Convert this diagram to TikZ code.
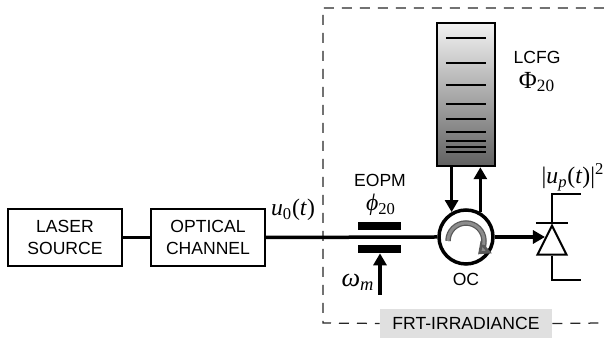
\documentclass[tikz,border=0pt]{standalone}
\usepackage{fontspec}
\setmainfont{Liberation Sans}
\newfontfamily\symbfont{Liberation Serif}
\usetikzlibrary{arrows.meta, shapes.geometric}

\begin{document}
\begin{tikzpicture}[
    every node/.style={font=\fontsize{10}{12.5}\selectfont},
    block/.style={rectangle, draw, line width=0.04cm, minimum width=2.28cm, minimum height=1.14cm, align=center, inner sep=0pt},
    plate/.style={rectangle, fill=black, minimum width=0.86cm, minimum height=0.16cm, inner sep=0pt},
    symb/.style={font=\symbfont\fontsize{13.5}{15}\selectfont, inner sep=0pt},
    beam/.style={line width=0.07cm},
    arrow/.style={line width=0.07cm, -{Triangle[length=0.24cm, width=0.26cm]}},
    wire/.style={line width=0.04cm},
    frame/.style={dash pattern=on 0.2cm off 0.16cm, line width=0.025cm, black!85}
]
\useasboundingbox (0, 0) rectangle (12.08, 6.76);

% ============ INPUT BLOCKS ============
\node[block] (laser) at (1.30, 2.01) {LASER\\SOURCE};
\node[block] (channel) at (4.16, 2.01) {OPTICAL\\CHANNEL};
\node[symb] (uzero) at (5.86, 2.56) {\textit{u}\textsubscript{0}(\textit{t})};

% ============ FRT-IRRADIANCE FRAME ============
\node[fill=black!12, minimum width=3.44cm, minimum height=0.58cm, inner sep=0pt] (frt) at (9.32, 0.29) {FRT-IRRADIANCE};
\coordinate (frametop) at (12.08, 6.60);
\coordinate (framebot) at (12.08, 0.30);
\draw[frame] (frametop) -- (6.46, 6.60) -- (6.46, 0.30) -- (frt.west);
\draw[frame] (frt.east) -- (framebot);

% ============ MODULATOR ============
\node[plate] (plateup) at (7.60, 2.24) {};
\node[plate] (platedown) at (7.60, 1.78) {};
\node (eopm) at (7.60, 3.16) {EOPM};
\node[symb] (phase) at (7.62, 2.66) {\textit{ϕ}\textsubscript{20}};
\coordinate (drive) at (7.60, 0.86);
\node[symb, font=\symbfont\fontsize{15}{17}\selectfont] (omega) at (7.16, 1.12) {\textit{ω\textsubscript{m}}};
\draw[arrow] (drive) -- (platedown.south);

% ============ CIRCULATOR ============
\node[circle, draw, line width=0.07cm, minimum size=1.08cm, inner sep=0pt] (circ) at (9.32, 2.02) {};
\node (oc) at (9.32, 1.18) {OC};
\draw[beam] (laser.east) -- (channel.west);
\draw[beam] (channel.east) -- (circ.west);
\draw[line width=0.11cm, black!65, -{Triangle[length=0.22cm, width=0.32cm, fill=black!45]}] (8.96, 1.94) arc[start angle=180, end angle=-48, radius=0.36];
\draw[line width=0.06cm, black!45] (8.96, 1.94) arc[start angle=180, end angle=-12, radius=0.36];

% ============ GRATING ============
\node[rectangle, draw, line width=0.05cm, top color=black!5, bottom color=black!62, minimum width=1.16cm, minimum height=2.86cm, inner sep=0pt] (lcfg) at (9.32, 4.87) {};
\foreach \y in {6.00, 5.50, 5.06, 4.68, 4.38, 4.12, 3.94, 3.82, 3.72} {
    \draw[wire] (8.92, \y) -- (9.72, \y);
}
\node (lcfgname) at (10.74, 5.62) {LCFG};
\node[symb, font=\symbfont\fontsize{14}{16}\selectfont] (bigphase) at (10.74, 5.12) {Φ\textsubscript{20}};
\draw[arrow] (circ.120 |- lcfg.south) -- (circ.120);
\draw[arrow] (circ.60) -- (circ.60 |- lcfg.south);

% ============ DETECTOR ============
\node[isosceles triangle, isosceles triangle stretches, shape border rotate=90, draw, line width=0.04cm, minimum width=0.58cm, minimum height=0.58cm, inner sep=0pt, anchor=apex] (diode) at (11.04, 2.30) {};
\node[symb] (power) at (11.46, 3.22) {|\textit{u\textsubscript{p}}(\textit{t})|\textsuperscript{2}};
\coordinate (leadup) at (11.62, 2.88);
\coordinate (leaddown) at (11.62, 1.16);
\coordinate (diodein) at (10.90, 2.02);
\draw[arrow] (circ.east) -- (diodein);
\draw[wire] (diode.left corner |- diode.apex) -- (diode.right corner |- diode.apex);
\draw[wire] (diode.apex) |- (leadup);
\draw[wire] (diode.south) |- (leaddown);

\end{tikzpicture}
\end{document}
